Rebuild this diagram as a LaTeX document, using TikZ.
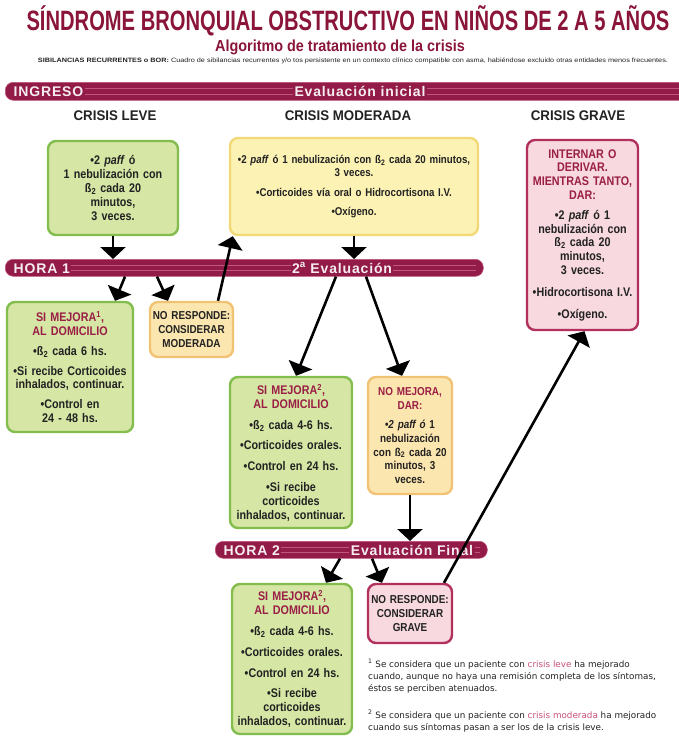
\documentclass[tikz,border=0pt]{standalone}
\usepackage{fontspec}
\setmainfont{Liberation Sans}
\newfontfamily\condfont{Liberation Sans}[FakeStretch=0.86]
\newfontfamily\headfont{Liberation Sans}[FakeStretch=0.95]
\newfontfamily\titlefont{Liberation Sans}[FakeStretch=0.72]
\newfontfamily\subfont{Liberation Sans}[FakeStretch=0.9]
\newfontfamily\barfont{Liberation Sans}[LetterSpace=6]
\newfontfamily\notefont{DejaVu Sans}
\usetikzlibrary{arrows.meta,calc}

\definecolor{crimson}{HTML}{8A1538}
\definecolor{barred}{HTML}{921B48}
\definecolor{barline}{HTML}{C0557E}
\definecolor{boxred}{HTML}{9A1E45}
\definecolor{ink}{HTML}{222222}
\definecolor{greenfill}{HTML}{D5E6A5}
\definecolor{greenedge}{HTML}{82BD4E}
\definecolor{yellowfill}{HTML}{FCF2B4}
\definecolor{yellowedge}{HTML}{F3D878}
\definecolor{orangefill}{HTML}{FCE6B0}
\definecolor{orangeedge}{HTML}{F2C274}
\definecolor{pinkfill}{HTML}{F7D9DF}
\definecolor{pinkedge}{HTML}{B2305E}
\definecolor{notepink}{HTML}{C8507A}

\begin{document}
\begin{tikzpicture}[x=1pt,y=-1pt,
  box/.style={rounded corners=8pt, line width=2.4pt, align=center, inner sep=1pt,
    text=ink, font=\condfont\bfseries\fontsize{12.5}{13.8}\selectfont},
  smalltext/.style={font=\condfont\bfseries\fontsize{11.5}{13.6}\selectfont},
  greenbox/.style={box, fill=greenfill, draw=greenedge},
  yellowbox/.style={box, fill=yellowfill, draw=yellowedge},
  orangebox/.style={box, fill=orangefill, draw=orangeedge, smalltext},
  pinkbox/.style={box, fill=pinkfill, draw=pinkedge},
  bar/.style={fill=barred, draw=barline, line width=0.6pt, rounded corners=8pt, inner sep=0pt},
  stripe/.style={draw=barline, line width=0.7pt},
  bartext/.style={text=white!92!barred, fill=barred, inner sep=1.5pt,
    font=\barfont\bfseries\fontsize{14}{14}\selectfont},
  header/.style={anchor=base, text=ink, font=\headfont\bfseries\fontsize{14}{14}\selectfont},
  notetext/.style={anchor=base west, inner sep=0pt, text=ink,
    font=\notefont\fontsize{8.8}{10}\selectfont},
  arr/.style={draw=black, line width=2.6pt, -{Triangle[width=25pt,length=12pt]}}
]
\useasboundingbox (0,0) rectangle (678,736);

% Titles
\node[anchor=base, inner sep=0pt, text=crimson,
  font=\titlefont\bfseries\fontsize{28}{28}\selectfont] (title) at (348,30)
  {SÍNDROME BRONQUIAL OBSTRUCTIVO EN NIÑOS DE 2 A 5 AÑOS};
\node[anchor=base, inner sep=0pt, text=crimson,
  font=\subfont\bfseries\fontsize{16}{16}\selectfont] (subtitle) at (340,51)
  {Algoritmo de tratamiento de la crisis};
\node[anchor=base, inner sep=0pt, text=ink] (definition) at (353,62)
  {\resizebox{630pt}{4.6pt}{\condfont\bfseries SIBILANCIAS RECURRENTES o BOR: \mdseries Cuadro de sibilancias recurrentes y/o tos persistente en un contexto clínico compatible con asma, habiéndose excluido otras entidades menos frecuentes.}};

% Bars
\node[bar, anchor=north west, minimum width=700, minimum height=18] (bar1) at (5,82) {};
\node[bar, anchor=north west, minimum width=478, minimum height=17] (bar2) at (5,259) {};
\node[bar, anchor=north west, minimum width=272, minimum height=17] (bar3) at (215,541) {};
\foreach \b in {bar1,bar2,bar3}{
  \draw[stripe] ([xshift=8pt,yshift=-6pt]\b.north west) -- ([xshift=-8pt,yshift=-6pt]\b.north east);
  \draw[stripe] ([xshift=8pt,yshift=6pt]\b.south west) -- ([xshift=-8pt,yshift=6pt]\b.south east);
}
\node[bartext, anchor=base west] (ingreso) at (12,96) {INGRESO};
\node[bartext, anchor=base] (evalini) at (360,96) {Evaluación inicial};
\node[bartext, anchor=base west] (hora1) at (12,273) {HORA 1};
\node[bartext, anchor=base] (eval2) at (342,273) {2\textsuperscript{a} Evaluación};
\node[bartext, anchor=base west] (hora2) at (222,555) {HORA 2};
\node[bartext, anchor=base] (evalfin) at (412,555) {Evaluación Final};

% Column headers
\node[header] (hleve) at (115,120) {CRISIS LEVE};
\node[header] (hmod) at (348,120) {CRISIS MODERADA};
\node[header] (hgrave) at (578,120) {CRISIS GRAVE};

% Initial treatment boxes
\node[greenbox, minimum width=130, minimum height=94, text width=126] (leve) at (113,188)
  {•2 \textit{paff} ó\\ 1 nebulización con\\ ß\textsubscript{2} cada 20\\ minutos,\\ 3 veces.};
\node[yellowbox, minimum width=248, minimum height=97, text width=244,
  font=\condfont\bfseries\fontsize{11.3}{13.4}\selectfont] (moder) at (354,186.5)
  {•2 \textit{paff} ó 1 nebulización con ß\textsubscript{2} cada 20 minutos,\\ 3 veces.\\[6pt]
   •Corticoides vía oral o Hidrocortisona I.V.\\[6pt] •Oxígeno.};
\node[pinkbox, minimum width=111, minimum height=190, text width=108] (grave) at (582.5,235)
  {\textcolor{boxred}{INTERNAR O}\\ \textcolor{boxred}{DERIVAR.}\\ \textcolor{boxred}{MIENTRAS TANTO,}\\ \textcolor{boxred}{DAR:}\\[6pt]
   •2 \textit{paff} ó 1\\ nebulización con\\ ß\textsubscript{2} cada 20\\ minutos,\\ 3 veces.\\[8pt]
   •Hidrocortisona I.V.\\[8pt] •Oxígeno.};

% Hour 1 outcomes
\node[greenbox, minimum width=126, minimum height=130, text width=124] (mej1) at (70,367)
  {\textcolor{boxred}{SI MEJORA\textsuperscript{1},}\\ \textcolor{boxred}{AL DOMICILIO}\\[6pt]
   •ß\textsubscript{2} cada 6 hs.\\[6pt] •Si recibe Corticoides\\ inhalados, continuar.\\[6pt]
   •Control en\\ 24 - 48 hs.};
\node[orangebox, minimum width=83, minimum height=55, text width=81] (nor1) at (191.5,329.5)
  {NO RESPONDE:\\ CONSIDERAR\\ MODERADA};
\node[greenbox, minimum width=122, minimum height=151, text width=120] (mej2) at (291,452.5)
  {\textcolor{boxred}{SI MEJORA\textsuperscript{2},}\\ \textcolor{boxred}{AL DOMICILIO}\\[7pt]
   •ß\textsubscript{2} cada 4-6 hs.\\[7pt] •Corticoides orales.\\[7pt] •Control en 24 hs.\\[7pt]
   •Si recibe\\ corticoides\\ inhalados, continuar.};
\node[orangebox, minimum width=84, minimum height=117, text width=82] (nomej) at (410,435.5)
  {\textcolor{boxred}{NO MEJORA,}\\ \textcolor{boxred}{DAR:}\\[6pt]
   •\textit{2 paff ó} 1\\ nebulización\\ con ß\textsubscript{2} cada 20\\ minutos, 3\\ veces.};

% Hour 2 outcomes
\node[greenbox, minimum width=120, minimum height=150, text width=118] (mej3) at (292,659)
  {\textcolor{boxred}{SI MEJORA\textsuperscript{2},}\\ \textcolor{boxred}{AL DOMICILIO}\\[7pt]
   •ß\textsubscript{2} cada 4-6 hs.\\[7pt] •Corticoides orales.\\[7pt] •Control en 24 hs.\\[7pt]
   •Si recibe\\ corticoides\\ inhalados, continuar.};
\node[pinkbox, smalltext, minimum width=84, minimum height=59, text width=82] (nogr) at (410,613.5)
  {NO RESPONDE:\\ CONSIDERAR\\ GRAVE};

% Connectors
\draw[arr] (leve.south) -- (leve.south |- bar2.north);
\draw[arr] (moder.south) -- (moder.south |- bar2.north);
\draw[arr] ([xshift=26.5pt]nor1.north) -- ([xshift=4pt]moder.south west);
\draw[arr] ([xshift=120pt]bar2.south west) -- ([xshift=45pt]mej1.north);
\draw[arr] ([xshift=152pt]bar2.south west) -- ([xshift=-23.5pt]nor1.north);
\draw[arr] ([xshift=331pt]bar2.south west) -- ([xshift=5pt]mej2.north);
\draw[arr] ([xshift=361pt]bar2.south west) -- ([xshift=-8pt]nomej.north);
\draw[arr] (nomej.south) -- (nomej.south |- bar3.north);
\draw[arr] ([xshift=125pt]bar3.south west) -- ([xshift=34pt]mej3.north);
\draw[arr] ([xshift=157pt]bar3.south west) -- ([xshift=-28pt]nogr.north);
\draw[arr] ([xshift=34pt]nogr.north) -- ([xshift=2pt]grave.south);

% Footnotes
\node[notetext] (n1a) at (368,667) {\textsuperscript{1} Se considera que un paciente con \textcolor{notepink}{crisis leve} ha mejorado};
\node[notetext] (n1b) at (368,679) {cuando, aunque no haya una remisión completa de los síntomas,};
\node[notetext] (n1c) at (368,691) {éstos se perciben atenuados.};
\node[notetext] (n2a) at (368,718) {\textsuperscript{2} Se considera que un paciente con \textcolor{notepink}{crisis moderada} ha mejorado};
\node[notetext] (n2b) at (368,730) {cuando sus síntomas pasan a ser los de la crisis leve.};
\end{tikzpicture}
\end{document}
